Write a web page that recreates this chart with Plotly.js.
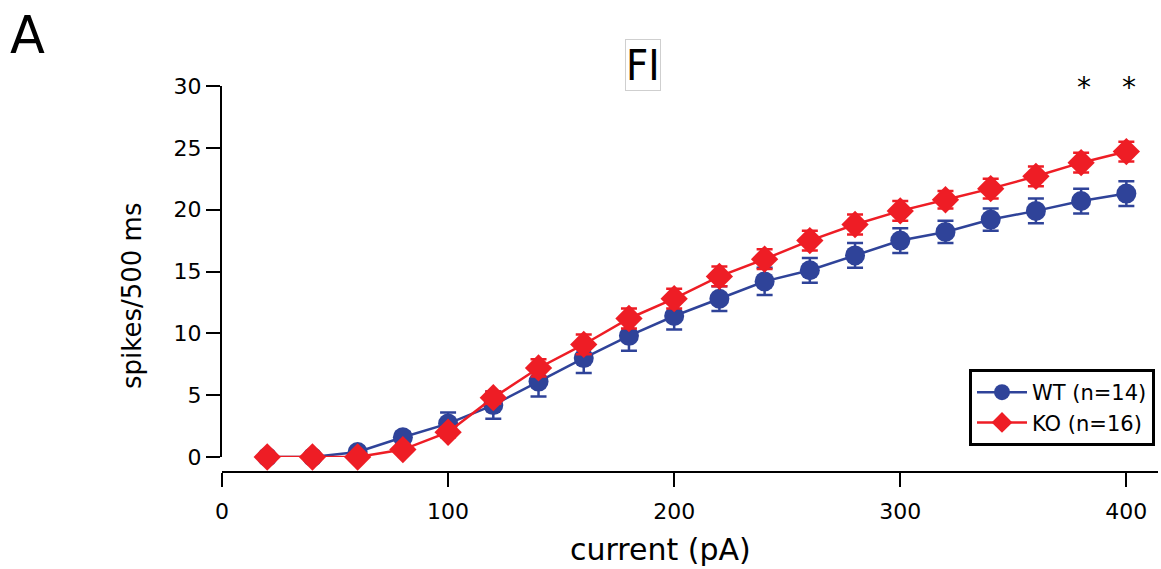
<!DOCTYPE html>
<html>
<head>
<meta charset="utf-8">
<script src="https://cdn.plot.ly/plotly-3.0.1.min.js"></script>
<style>
  html, body { margin: 0; padding: 0; background: #fff; }
  #chart { width: 1161px; height: 569px; }
</style>
</head>
<body>
<div id="chart"></div>
<script>
// Injected current steps (pA)
const currentPA = [20, 40, 60, 80, 100, 120, 140, 160, 180, 200, 220, 240, 260, 280, 300, 320, 340, 360, 380, 400];

// Mean spike counts per 500 ms step, with SEM
const wtSpikes = [0, 0, 0.4, 1.6, 2.7, 4.2, 6.1, 8.0, 9.8, 11.4, 12.8, 14.2, 15.1, 16.3, 17.5, 18.2, 19.2, 19.9, 20.7, 21.3];
const wtSem    = [0, 0, 0.3, 0.4, 0.9, 1.1, 1.2, 1.2, 1.2, 1.1, 1.0, 1.1, 1.0, 1.0, 1.0, 0.9, 0.9, 1.0, 1.0, 1.0];
const koSpikes = [0, 0, 0, 0.6, 2.0, 4.8, 7.2, 9.1, 11.2, 12.8, 14.6, 16.0, 17.5, 18.8, 19.9, 20.8, 21.7, 22.7, 23.8, 24.7];
const koSem    = [0, 0, 0, 0.3, 0.4, 0.5, 0.7, 0.8, 0.8, 0.8, 0.8, 0.8, 0.8, 0.8, 0.8, 0.7, 0.8, 0.8, 0.8, 0.8];

// Steps where the groups differ significantly
const sigSteps = [380, 400];

const seriesNames = ['WT (n=14)', 'KO (n=16)'];
const xTickVals = [0, 100, 200, 300, 400];
const yTickVals = [0, 5, 10, 15, 20, 25, 30];

const wtColor = '#2f4399';
const koColor = '#ee1d25';
const fontFam = 'DejaVu Sans, Verdana, sans-serif';
const narrowFam = 'Liberation Sans Narrow, DejaVu Sans Condensed, Arial Narrow, sans-serif';

// Plot-area geometry in pixels, used to place free-floating labels
const M = { l: 222, r: 3, t: 86, b: 97 };
const W = 1161, H = 569;
const PW = W - M.l - M.r, PH = H - M.t - M.b;
const px = x => (x - M.l) / PW;
const py = y => (H - M.b - y) / PH;

const traces = [
  {
    x: currentPA, y: wtSpikes, name: seriesNames[0],
    type: 'scatter', mode: 'lines+markers', cliponaxis: false,
    line: { color: wtColor, width: 2.5 },
    marker: { symbol: 'circle', size: 20, color: wtColor },
    error_y: { type: 'data', array: wtSem, visible: true, color: wtColor, thickness: 2.5, width: 8 }
  },
  {
    x: currentPA, y: koSpikes, name: seriesNames[1],
    type: 'scatter', mode: 'lines+markers', cliponaxis: false,
    line: { color: koColor, width: 2.5 },
    marker: { symbol: 'diamond', size: 21, color: koColor },
    error_y: { type: 'data', array: koSem, visible: true, color: koColor, thickness: 2.5, width: 8 }
  }
];

// Significance markers above the last steps
const annotations = sigSteps.map(s => ({
  x: s, xref: 'x', xshift: 3, y: py(87), yref: 'paper', yanchor: 'middle',
  text: '*', showarrow: false,
  font: { family: fontFam, size: 28, color: '#000' }
}));

// Panel letter
annotations.push({
  x: px(8), y: py(36), xref: 'paper', yref: 'paper', xanchor: 'left', yanchor: 'middle',
  text: 'A', showarrow: false, font: { family: fontFam, size: 51, color: '#000' }
});

// Boxed panel title
annotations.push({
  x: px(643), y: py(65), xref: 'paper', yref: 'paper', xanchor: 'center', yanchor: 'middle',
  text: 'FI', showarrow: false,
  font: { family: narrowFam, size: 43, color: '#000' },
  bordercolor: '#cfcfcf', borderwidth: 1, borderpad: 0, bgcolor: '#fff'
});

// Axis titles
annotations.push({
  x: px(660), y: py(549), xref: 'paper', yref: 'paper', xanchor: 'center', yanchor: 'middle',
  text: 'current (pA)', showarrow: false,
  font: { family: fontFam, size: 30, color: '#000' }
});
annotations.push({
  x: px(132), y: py(296), xref: 'paper', yref: 'paper', xanchor: 'center', yanchor: 'middle',
  text: 'spikes/500 ms', textangle: -90, showarrow: false,
  font: { family: fontFam, size: 26, color: '#000' }
});

const layout = {
  width: W, height: H,
  margin: M,
  paper_bgcolor: '#fff', plot_bgcolor: '#fff',
  showlegend: true,
  legend: {
    x: px(1155), xanchor: 'right', y: py(446), yanchor: 'bottom',
    bordercolor: '#000', borderwidth: 3, bgcolor: '#fff',
    font: { family: fontFam, size: 21, color: '#000' },
    itemwidth: 50, tracegroupgap: 0
  },
  xaxis: {
    range: [0, 414], anchor: 'free', position: 0,
    showgrid: false, zeroline: false,
    showline: true, linecolor: '#000', linewidth: 2,
    ticks: 'outside', ticklen: 14, tickwidth: 2, tickcolor: '#000',
    tickvals: xTickVals, ticklabelstandoff: 6,
    tickfont: { family: fontFam, size: 22, color: '#000' }
  },
  yaxis: {
    range: [0, 30], domain: [15 / PH, 1],
    showgrid: false, zeroline: false,
    showline: true, linecolor: '#000', linewidth: 2,
    ticks: 'outside', ticklen: 14, tickwidth: 2, tickcolor: '#000',
    tickvals: yTickVals,
    tickfont: { family: fontFam, size: 22, color: '#000' }
  },
  annotations: annotations
};

Plotly.newPlot('chart', traces, layout, { displayModeBar: false, staticPlot: true });
</script>
</body>
</html>
